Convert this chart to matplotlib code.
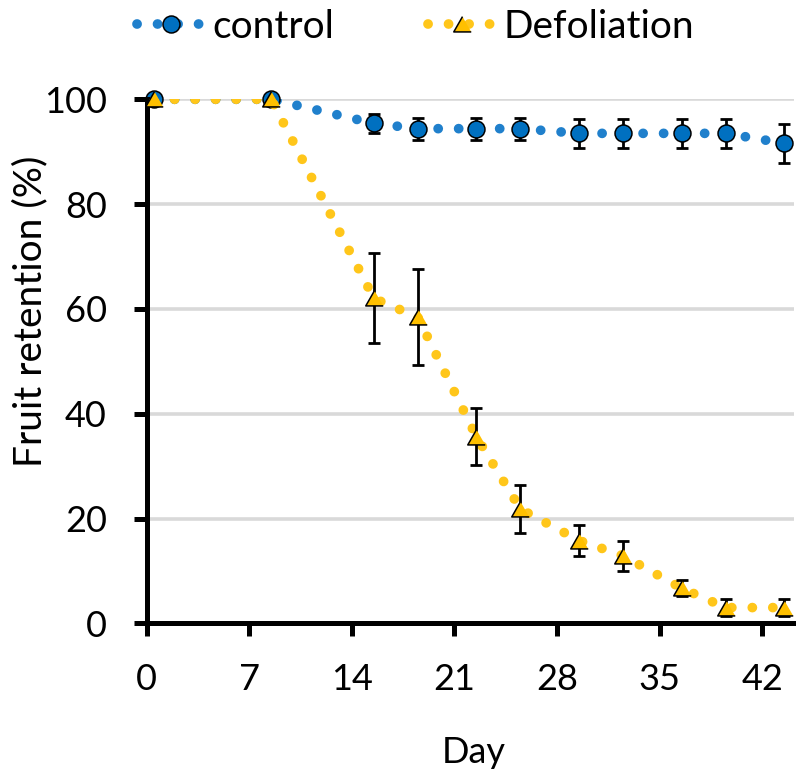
import numpy as np
import matplotlib.pyplot as plt
from matplotlib.lines import Line2D

plt.rcParams['font.family'] = ['Lato', 'DejaVu Sans']

day = [0.5, 8.5, 15.5, 18.5, 22.5, 25.5, 29.5, 32.5, 36.5, 39.5, 43.5]
control = [100, 100, 95.4, 94.4, 94.4, 94.4, 93.5, 93.5, 93.5, 93.5, 91.6]
control_err = [0, 0, 1.8, 2.1, 2.1, 2.1, 2.7, 2.7, 2.7, 2.7, 3.7]
defol = [100, 100, 62.0, 58.4, 35.6, 21.8, 15.8, 12.9, 6.7, 3.0, 3.0]
defol_err = [0, 0, 8.6, 9.2, 5.4, 4.6, 3.0, 2.9, 1.5, 1.6, 1.6]
xticks = [0, 7, 14, 21, 28, 35, 42]
yticks = [0, 20, 40, 60, 80, 100]

blue_line, blue_fill = '#2080cc', '#0070c0'
gold_line, gold_fill = '#ffc61a', '#ffc000'
dots = (0, (0.01, 2.1))
tri = [(0, 0.9), (-1, -0.85), (1, -0.85)]

fig = plt.figure(figsize=(7.96, 7.74), dpi=100)
ax = fig.add_axes([0.1843, 0.1947, 0.8138, 0.677])

series = [
    (control, control_err, blue_line, blue_fill, 'o', 12.2, 'control'),
    (defol, defol_err, gold_line, gold_fill, tri, 12.6, 'Defoliation'),
]
handles = []
z = 2
for y, err, lc, fc, mk, ms, name in series:
    ax.plot(day, y, color=lc, lw=7, ls=dots, dash_capstyle='round', zorder=z)
    ax.errorbar(day[2:], y[2:], yerr=err[2:], fmt='none', ecolor='black',
                elinewidth=2, capsize=4.4, capthick=2, zorder=z + 0.1, clip_on=False)
    ax.plot(day, y, ls='none', marker=mk, ms=ms, mfc=fc, mec='black', mew=1.1,
            zorder=z + 0.2, clip_on=False)
    handles.append(Line2D([], [], color=lc, lw=7, ls=dots, dash_capstyle='round',
                          marker=mk, ms=ms, mfc=fc, mec='black', mew=1.1, label=name))
    z += 1

ax.set_xlim(0, 44.2)
ax.set_ylim(0, 100)
ax.set_xticks(xticks)
ax.set_yticks(yticks)
ax.yaxis.grid(True, color='#d9d9d9', lw=2.6)
ax.set_axisbelow(True)
for s in ['top', 'right']:
    ax.spines[s].set_visible(False)
for s in ['left', 'bottom']:
    ax.spines[s].set_linewidth(3.6)
ax.tick_params(width=3.6, length=9.6, direction='out', labelsize=26, pad=19)

ax.set_xlabel('Day', fontsize=26)
ax.set_ylabel('Fruit retention (%)', fontsize=28)
ax.xaxis.set_label_coords(0.505, -0.215)
ax.yaxis.set_label_coords(-0.152, 0.595)

fig.legend(handles=handles, loc='center', bbox_to_anchor=(0.522, 0.965), ncol=2,
           frameon=False, fontsize=28, handlelength=1.75, handletextpad=0.2,
           columnspacing=2.4)

fig.savefig('out.png', dpi=100)
